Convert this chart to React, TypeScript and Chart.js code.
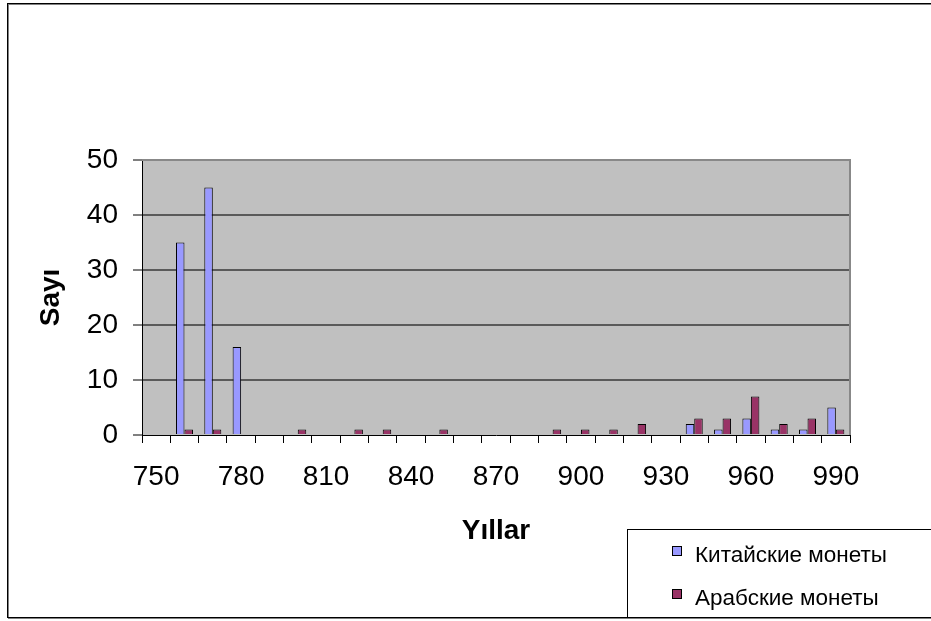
import React, { useEffect, useRef } from "react";
import { Chart, registerables } from "chart.js";

Chart.register(...registerables);

const years = [
  "750", "760", "770", "780", "790", "800", "810", "820", "830", "840",
  "850", "860", "870", "880", "890", "900", "910", "920", "930", "940",
  "950", "960", "970", "980", "990",
];
const chineseCoins = [0, 35, 45, 16, 0, 0, 0, 0, 0, 0, 0, 0, 0, 0, 0, 0, 0, 0, 0, 2, 1, 3, 1, 1, 5];
const arabCoins = [0, 1, 1, 0, 0, 1, 0, 1, 1, 0, 1, 0, 0, 0, 1, 1, 1, 2, 0, 3, 3, 7, 2, 3, 1];
const shownYearLabels = ["750", "780", "810", "840", "870", "900", "930", "960", "990"];
const yMin = 0;
const yMax = 50;
const yStep = 10;

const seriesNames = ["Китайские монеты", "Арабские монеты"];
const seriesColors = ["#9999FF", "#993366"];

const W = 931;
const H = 621;

const framePlugin = {
  id: "frame",
  beforeDraw(chart: any) {
    const { ctx, chartArea } = chart;
    ctx.save();
    ctx.fillStyle = "#ffffff";
    ctx.fillRect(0, 0, W, H);
    ctx.fillStyle = "#C0C0C0";
    ctx.fillRect(chartArea.left, chartArea.top, chartArea.right - chartArea.left, chartArea.bottom - chartArea.top);
    ctx.restore();
  },
  afterDraw(chart: any) {
    const { ctx, chartArea } = chart;
    ctx.save();
    // plot area gray border top/right
    ctx.strokeStyle = "#888888";
    ctx.lineWidth = 2;
    ctx.beginPath();
    ctx.moveTo(chartArea.left, chartArea.top);
    ctx.lineTo(chartArea.right, chartArea.top);
    ctx.lineTo(chartArea.right, chartArea.bottom);
    ctx.stroke();

    // outer border
    ctx.fillStyle = "#000000";
    ctx.fillRect(7, 3, 1, 615);
    ctx.fillRect(7, 3, W, 1);
    ctx.fillRect(7, 617, W, 1);
    ctx.fillStyle = "#808080";
    ctx.fillRect(8, 4, 1, 613);
    ctx.fillRect(8, 4, W, 1);
    ctx.fillRect(8, 618, W, 1);

    // legend box
    ctx.fillStyle = "#000000";
    ctx.fillRect(627, 529, 1, 88);
    ctx.fillRect(627, 529, W, 1);

    const items = chart.data.datasets;
    const baseY = [562, 605];
    ctx.font = "22.5px 'Liberation Sans', Arial, sans-serif";
    ctx.textBaseline = "alphabetic";
    ctx.textAlign = "left";
    items.forEach((ds: any, i: number) => {
      const by = baseY[i];
      ctx.fillStyle = ds.backgroundColor;
      ctx.fillRect(672, by - 16, 10, 10);
      ctx.strokeStyle = "#000000";
      ctx.lineWidth = 1;
      ctx.strokeRect(672.5, by - 15.5, 9, 9);
      ctx.fillStyle = "#000000";
      ctx.fillText(ds.label, 695, by);
    });
    ctx.restore();
  },
};

export default function App() {
  const canvasRef = useRef<HTMLCanvasElement | null>(null);

  useEffect(() => {
    const canvas = canvasRef.current;
    if (!canvas) return;
    const tickFont = { family: "'Liberation Sans', Arial, sans-serif", size: 28, lineHeight: 1.2 };
    const titleFont = { family: "'Liberation Sans', Arial, sans-serif", size: 28, weight: "bold" as const, lineHeight: 1.2 };
    const chart = new Chart(canvas, {
      type: "bar",
      data: {
        labels: years,
        datasets: [
          {
            label: seriesNames[0],
            data: chineseCoins,
            backgroundColor: seriesColors[0],
            borderColor: "#000000",
            borderWidth: 1,
            categoryPercentage: 0.6,
            barPercentage: 1,
          },
          {
            label: seriesNames[1],
            data: arabCoins,
            backgroundColor: seriesColors[1],
            borderColor: "#000000",
            borderWidth: 1,
            categoryPercentage: 0.6,
            barPercentage: 1,
          },
        ],
      },
      options: {
        responsive: false,
        animation: false,
        devicePixelRatio: 1,
        layout: { padding: { top: 160, right: 81, left: 0, bottom: 0 } },
        plugins: {
          legend: { display: false },
          tooltip: { enabled: false },
          title: { display: false },
        },
        scales: {
          x: {
            type: "category",
            offset: true,
            afterFit: (scale: any) => {
              scale.height = 186;
            },
            grid: {
              offset: true,
              drawOnChartArea: false,
              drawTicks: true,
              tickLength: 8,
              tickColor: "#000000",
              tickWidth: 1,
              color: "#000000",
            },
            border: { display: true, color: "#000000", width: 1 },
            ticks: {
              autoSkip: false,
              maxRotation: 0,
              minRotation: 0,
              padding: 17,
              color: "#000000",
              font: tickFont,
              callback: (_v: any, i: number) => (shownYearLabels.includes(years[i]) ? years[i] : ""),
            },
            title: {
              display: true,
              text: "Yıllar",
              color: "#000000",
              font: titleFont,
              padding: { top: 0, bottom: 73 },
            },
          },
          y: {
            min: yMin,
            max: yMax,
            afterFit: (scale: any) => {
              scale.width = 142;
            },
            grid: {
              color: (c: any) => (c.tick && c.tick.value === yMax ? "#888888" : c.tick && c.tick.value === 0 ? "rgba(0,0,0,0)" : "#5a5a5a"),
              lineWidth: 2,
              drawTicks: true,
              tickLength: 9,
              tickColor: "#000000",
              tickWidth: 1,
            },
            border: { display: true, color: "#000000", width: 1 },
            ticks: {
              stepSize: yStep,
              padding: 15,
              color: "#000000",
              font: tickFont,
            },
            title: {
              display: true,
              text: "Sayı",
              color: "#000000",
              font: titleFont,
              padding: { top: 34, bottom: 0 },
            },
          },
        },
      },
      plugins: [framePlugin],
    });
    return () => chart.destroy();
  }, []);

  return (
    <div style={{ position: "absolute", left: 0, top: 0, width: W, height: H, background: "#fff" }}>
      <canvas ref={canvasRef} width={W} height={H} style={{ display: "block", width: W, height: H }} />
    </div>
  );
}
